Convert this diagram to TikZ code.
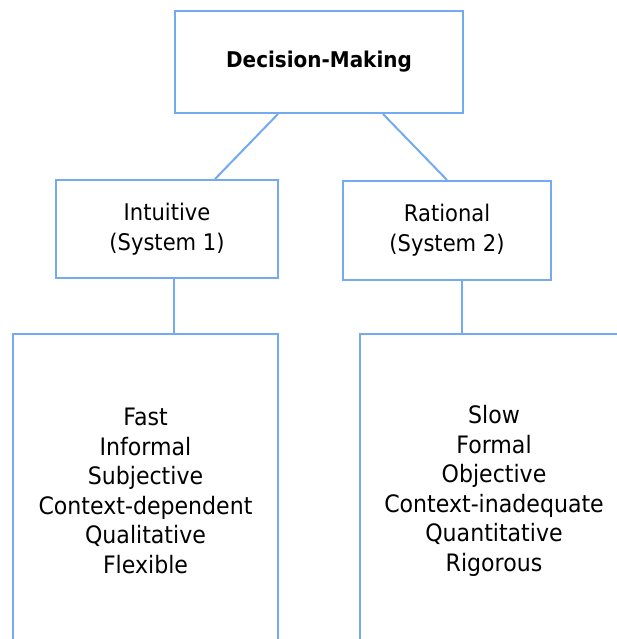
\documentclass[tikz,border=0pt]{standalone}
\usepackage{fontspec}
\setmainfont{DejaVu Sans}[FakeStretch=0.92]
\definecolor{boxblue}{RGB}{115,170,242}
\begin{document}
\begin{tikzpicture}[x=1pt,y=-1pt,
  box/.style={draw=boxblue,line width=2pt,rectangle,inner sep=0pt,fill=white},
  conn/.style={draw=boxblue,line width=2pt},
  txt/.style={align=center,inner sep=0pt,text=black}]
\useasboundingbox (0,0) rectangle (617,639);
\clip (0,0) rectangle (617,639);
\fill[white] (0,0) rectangle (617,639);
% boxes
\node[box,minimum width=288pt,minimum height=102pt,
  font=\fontsize{21.7}{26}\selectfont\bfseries] (top) at (319,62) {Decision-Making};
\node[box,minimum width=222pt,minimum height=98pt,align=center,
  font=\fontsize{22.9}{30}\selectfont] (lm) at (167,229) {Intuitive\\(System 1)};
\node[box,minimum width=208pt,minimum height=99pt,align=center,
  font=\fontsize{22.9}{30}\selectfont] (rm) at (447,230.5) {Rational\\(System 2)};
\node[box,minimum width=265pt,minimum height=400pt] (lb) at (145.5,534) {};
\node[box,minimum width=340pt,minimum height=400pt] (rb) at (530,534) {};
% list texts
\node[txt,font=\fontsize{24}{29.5}\selectfont] (lt) at (145.5,491)
  {Fast\\Informal\\Subjective\\Context-dependent\\Qualitative\\Flexible};
\node[txt,font=\fontsize{24}{29.5}\selectfont] (rt) at (494,491)
  {Slow\\Formal\\Objective\\Context-inadequate\\Quantitative\\Rigorous};
% connectors
\draw[conn] ([xshift=-41pt]top.south) -- ([xshift=48pt]lm.north);
\draw[conn] ([xshift=64pt]top.south) -- (rm.north);
\draw[conn] ([xshift=7pt]lm.south) -- ([xshift=28.5pt]lb.north);
\draw[conn] ([xshift=15pt]rm.south) -- ([xshift=-68pt]rb.north);
\end{tikzpicture}
\end{document}
